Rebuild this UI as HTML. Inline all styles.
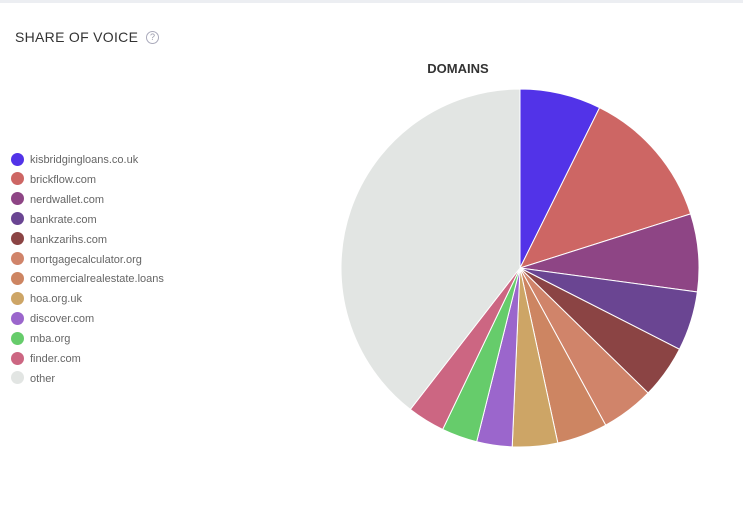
<!DOCTYPE html>
<html><head><meta charset="utf-8"><style>
body{margin:0;background:#fff;width:743px;height:510px;overflow:hidden;font-family:"Liberation Sans",sans-serif;position:relative}
.top{position:absolute;left:0;top:0;width:743px;height:3px;background:#eceef2}
.title{position:absolute;left:15px;top:29px;font-size:14px;color:#333;letter-spacing:0.3px}
.q{position:absolute;left:146px;top:31px;width:11px;height:11px;border:1px solid #aab;border-radius:50%;font-size:9px;color:#99a;text-align:center;line-height:11px}
.lg{position:absolute;left:11px;font-size:11px;color:#666;height:14px;line-height:14px}
.lg i{display:inline-block;width:13px;height:13px;border-radius:50%;vertical-align:middle;margin-right:6px;margin-top:-2px}
</style></head><body>
<div class="top"></div>
<div class="title">SHARE OF VOICE</div><div class="q">?</div>
<div id="legend"></div>
<svg width="743" height="510" style="position:absolute;left:0;top:0">
<text x="458" y="73" text-anchor="middle" font-family="Liberation Sans" font-weight="bold" font-size="13" fill="#333">DOMAINS</text>
<g id="pie"></g>
</svg>
<script>
var names=["kisbridgingloans.co.uk","brickflow.com","nerdwallet.com","bankrate.com","hankzarihs.com","mortgagecalculator.org","commercialrealestate.loans","hoa.org.uk","discover.com","mba.org","finder.com","other"];
var cols=["#5233e8","#cd6664","#8e4585","#6a4592","#8b4444","#d0846a","#cd8562","#cda566","#9b66cc","#66cc6b","#cc6682","#e2e5e3"];
var b=[0,26.4,72.4,97.7,117,134.3,151.4,167.8,182.5,194,205.6,217.8,360];
var cx=520,cy=268,r=179,h="";
function pt(a){a=a*Math.PI/180;return (cx+r*Math.sin(a)).toFixed(2)+","+(cy-r*Math.cos(a)).toFixed(2);}
for(var i=0;i<12;i++){var l=(b[i+1]-b[i])>180?1:0;
h+='<path d="M'+cx+','+cy+' L'+pt(b[i])+' A'+r+','+r+' 0 '+l+' 1 '+pt(b[i+1])+' Z" fill="'+cols[i]+'" stroke="#fff" stroke-width="1"/>';}
document.getElementById("pie").innerHTML=h;
var lg="";for(var i=0;i<12;i++){lg+='<div class="lg" style="top:'+(153+i*19.9)+'px"><i style="background:'+cols[i]+'"></i>'+names[i]+'</div>';}
document.getElementById("legend").innerHTML=lg;
</script>
</body></html>
